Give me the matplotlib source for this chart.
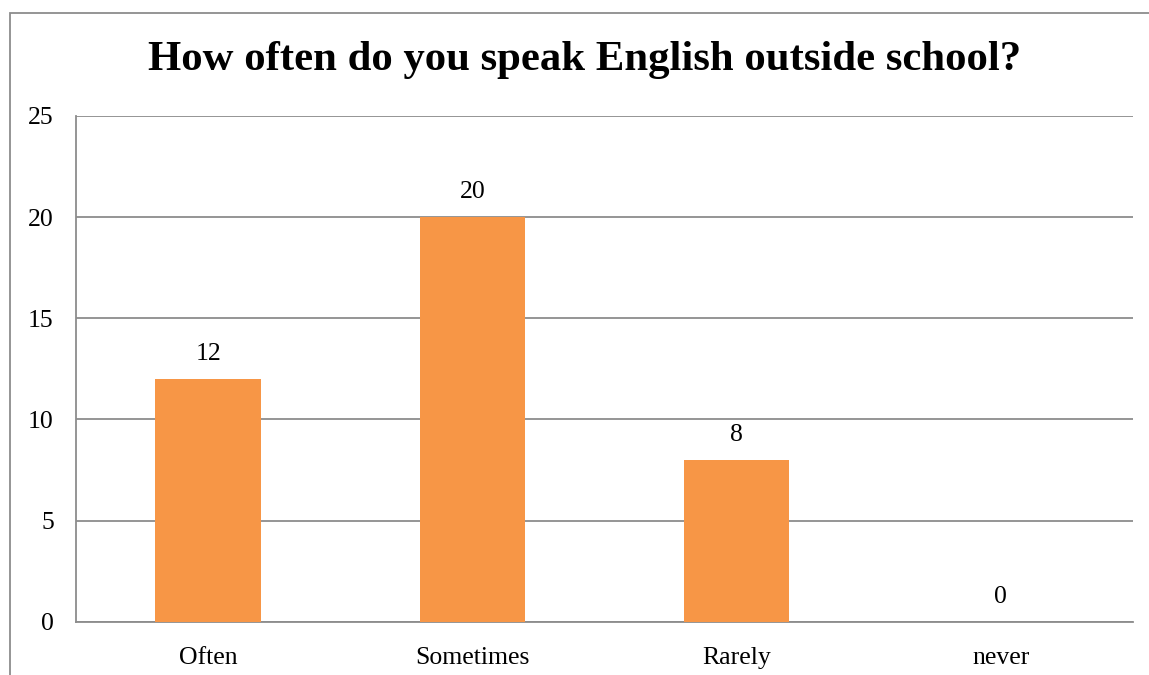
import matplotlib
matplotlib.use("Agg")
import matplotlib.pyplot as plt
from matplotlib.patches import Rectangle

categories = ["Often", "Sometimes", "Rarely", "never"]
values = [12, 20, 8, 0]
yticks = [0, 5, 10, 15, 20, 25]
title = "How often do you speak English outside school?"

plt.rcParams['font.family'] = ['Liberation Serif', 'DejaVu Serif']

W, H = 1149, 675
fig = plt.figure(figsize=(W / 100, H / 100), dpi=100)
ax = fig.add_axes([76 / W, 1 - 621.7 / H, (1133 - 76) / W, (621.7 - 116) / H])

x = list(range(len(categories)))
bars = ax.bar(x, values, width=0.4, color="#F79646", zorder=3)
ax.set_xlim(-0.5, len(categories) - 0.5)
ax.set_ylim(0, 25)
ax.set_yticks(yticks)
ax.set_yticklabels([str(t) for t in yticks], fontsize=18.5)
ax.set_xticks(x)
ax.set_xticklabels(categories, fontsize=18.5)
ax.tick_params(axis='both', length=0, colors='black')
ax.tick_params(axis='y', pad=16)
ax.tick_params(axis='x', pad=18)
ax.grid(axis='y', color='#8c8c8c', linewidth=1.3, zorder=0)
for s in ['top', 'right']:
    ax.spines[s].set_visible(False)
for s in ['left', 'bottom']:
    ax.spines[s].set_color('#8c8c8c')
    ax.spines[s].set_linewidth(1.3)

for xi, v in zip(x, values):
    ax.annotate(str(v), (xi, v), xytext=(0, 14), textcoords='offset pixels',
                ha='center', va='bottom', fontsize=18.5)

fig.text(585 / W, 1 - 60 / H, title, ha='center', va='center',
         fontsize=30.8, fontweight='bold')

# chart border
fig.patches.append(Rectangle((9.5 / W, -0.1), (W + 5) / W, (H - 12.5) / H + 0.1,
                             transform=fig.transFigure, fill=False,
                             edgecolor='#8c8c8c', linewidth=1.3))

fig.savefig("out.png", dpi=100)
